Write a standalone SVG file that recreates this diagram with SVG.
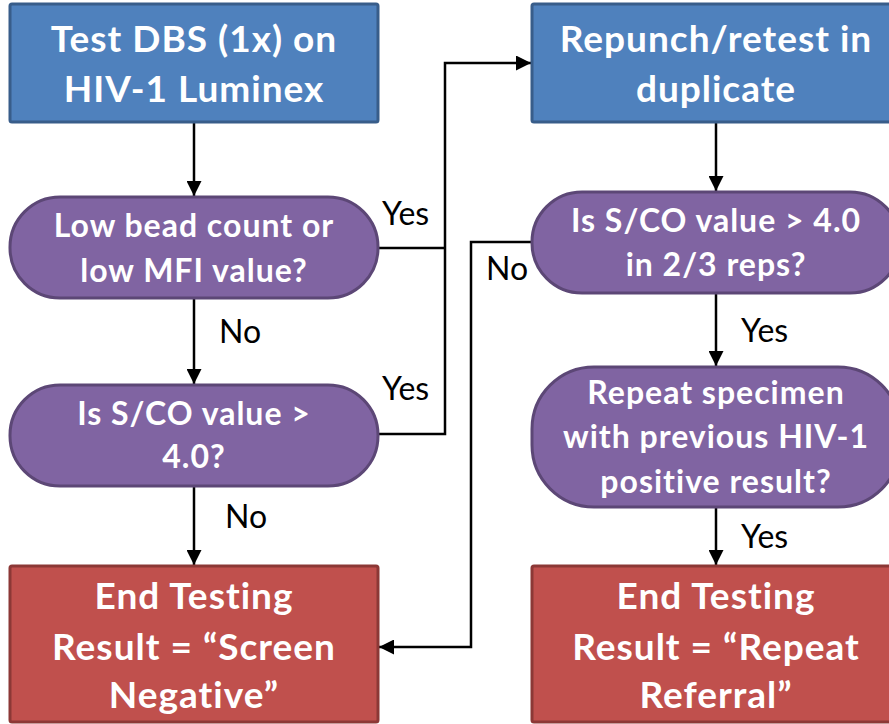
<svg xmlns="http://www.w3.org/2000/svg" width="889" height="724" viewBox="0 0 889 724">
<style>
.blue{fill:#4F81BD;stroke:#385D8A;stroke-width:3}
.purple{fill:#8064A2;stroke:#5C4776;stroke-width:3}
.red{fill:#C0504D;stroke:#8C3836;stroke-width:3}
.nt{font-family:Lato,"Open Sans","Liberation Sans",sans-serif;font-weight:bold;fill:#fff;text-anchor:middle;letter-spacing:1px}
.big{font-size:37px}
.mid{font-size:32px}
.lbl{font-family:Lato,"Open Sans","Liberation Sans",sans-serif;font-size:32px;fill:#000}
.c{fill:none;stroke:#000;stroke-width:2.5}
</style>
<defs>
<marker id="ah" viewBox="0 0 10 10" refX="10" refY="5" markerWidth="6" markerHeight="6" markerUnits="strokeWidth" orient="auto">
<path d="M0,0 L10,5 L0,10 z" fill="#000"/>
</marker>
</defs>
<rect width="889" height="724" fill="#fff"/>
<g id="connectors">
<path class="c" d="M194,122 V196" marker-end="url(#ah)"/>
<path class="c" d="M194,298 V384" marker-end="url(#ah)"/>
<path class="c" d="M194,486 V565" marker-end="url(#ah)"/>
<path class="c" d="M378,248 H445"/>
<path class="c" d="M378,434 H445 V63 H531" marker-end="url(#ah)"/>
<path class="c" d="M716,122 V191" marker-end="url(#ah)"/>
<path class="c" d="M532,242 H471 V647 H379" marker-end="url(#ah)"/>
<path class="c" d="M716,293 V366" marker-end="url(#ah)"/>
<path class="c" d="M716,507 V565" marker-end="url(#ah)"/>
<text class="lbl" x="382" y="225">Yes</text>
<text class="lbl" x="219" y="343">No</text>
<text class="lbl" x="382" y="400">Yes</text>
<text class="lbl" x="225" y="528">No</text>
<text class="lbl" x="486" y="280">No</text>
<text class="lbl" x="741" y="342">Yes</text>
<text class="lbl" x="741" y="548">Yes</text>
</g>
<g id="start">
<rect class="blue" x="10" y="4" width="368" height="118" rx="2"/>
<text class="nt big" x="194" y="52">Test DBS (1x) on</text>
<text class="nt big" x="194" y="102">HIV-1 Luminex</text>
</g>
<g id="repunch">
<rect class="blue" x="532" y="4" width="368" height="118" rx="2"/>
<text class="nt big" x="716" y="52">Repunch/retest in</text>
<text class="nt big" x="716" y="102">duplicate</text>
</g>
<g id="lowbead">
<rect class="purple" x="10" y="197" width="368" height="101" rx="50"/>
<text class="nt mid" x="194" y="237">Low bead count or</text>
<text class="nt mid" x="194" y="282">low MFI value?</text>
</g>
<g id="sco1">
<rect class="purple" x="10" y="385" width="368" height="101" rx="50"/>
<text class="nt mid" x="194" y="425">Is S/CO value &gt;</text>
<text class="nt mid" x="194" y="468">4.0?</text>
</g>
<g id="sco2">
<rect class="purple" x="532" y="192" width="368" height="101" rx="50"/>
<text class="nt mid" x="716" y="232">Is S/CO value &gt; 4.0</text>
<text class="nt mid" x="716" y="276">in 2/3 reps?</text>
</g>
<g id="repeat">
<rect class="purple" x="532" y="367" width="368" height="140" rx="62"/>
<text class="nt mid" x="716" y="404">Repeat specimen</text>
<text class="nt mid" x="716" y="448">with previous HIV-1</text>
<text class="nt mid" x="716" y="493">positive result?</text>
</g>
<g id="negative">
<rect class="red" x="10" y="566" width="368" height="156" rx="2"/>
<text class="nt big" x="194" y="609">End Testing</text>
<text class="nt big" x="194" y="660">Result = “Screen</text>
<text class="nt big" x="194" y="708">Negative”</text>
</g>
<g id="referral">
<rect class="red" x="532" y="566" width="368" height="156" rx="2"/>
<text class="nt big" x="716" y="609">End Testing</text>
<text class="nt big" x="716" y="660">Result = “Repeat</text>
<text class="nt big" x="716" y="708">Referral”</text>
</g>
</svg>
